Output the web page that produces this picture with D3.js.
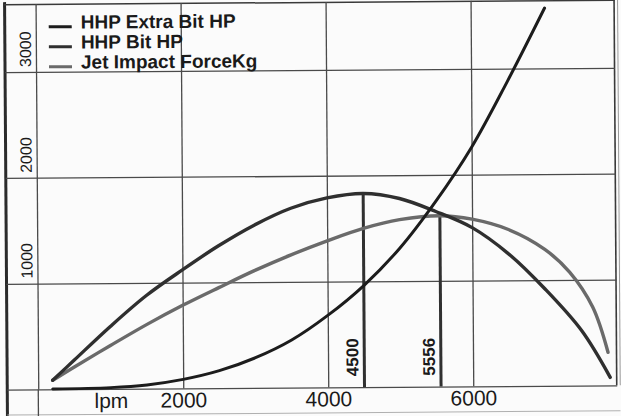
<!DOCTYPE html>
<html>
<head>
  <meta charset="utf-8">
  <script src="https://cdn.jsdelivr.net/npm/d3@7"></script>
  <style>
    body {
      margin: 0;
      padding: 0;
      background: #fbfbfb;
      font-family: "Liberation Sans", Arial, Helvetica, sans-serif;
    }
    .grid line { stroke: #4a4a4a; stroke-width: 1.3px; }
    .grid path { display: none; }
    .xlab text { font-size: 21px; fill: #1a1a1a; }
    .ylab text { font-size: 16px; fill: #1a1a1a; }
    .legend text { font-size: 19px; font-weight: bold; fill: #1a1a1a; }
    .mark text { font-size: 17px; font-weight: bold; fill: #1a1a1a; }
  </style>
</head>
<body>
<script>

  // HHP Extra Bit HP (steep rising curve)
  var extraLpm = [200, 1000, 1500, 2000, 2500, 3000, 3500, 4000, 4500, 5000, 5500, 6000, 6500, 7020];
  var extraHP  = [3, 12, 35, 85, 165, 285, 450, 680, 960, 1310, 1750, 2260, 2880, 3570];

  // HHP Bit HP
  var bitLpm = [200, 500, 1000, 1500, 2000, 2500, 3000, 3500, 4000, 4500, 5000, 5500, 6000, 6500, 7000, 7500, 7890];
  var bitHP  = [85, 275, 590, 880, 1120, 1345, 1540, 1695, 1790, 1830, 1780, 1655, 1500, 1250, 915, 520, 76];

  // Jet Impact ForceKg
  var jetLpm = [200, 500, 1000, 1500, 2000, 2500, 3000, 3500, 4000, 4500, 5000, 5556, 6000, 6500, 7000, 7340, 7655, 7862];
  var jetKg  = [85, 210, 410, 605, 785, 950, 1110, 1255, 1385, 1500, 1580, 1615, 1580, 1480, 1290, 1073, 741, 313];

  // vertical markers
  var markLpm = [4500, 5556];
  var markTop = [1830, 1615];
  var markLabels = ["4500", "5556"];

  var xGridTicks = [0, 2000, 4000, 6000];
  var xLabelTicks = [1000, 2000, 4000, 6000];
  var xLabels = ["lpm", "2000", "4000", "6000"];
  var yGridTicks = [0, 1000, 2000, 3000];
  var yLabelTicks = [1000, 2000, 3000];

  var seriesNames = ["HHP Extra Bit HP", "HHP Bit HP", "Jet Impact ForceKg"];
  var seriesColors = ["#1c1c1c", "#2f2f2f", "#6a6a6a"];

  var width = 621, height = 416;
  var pLeft = 37, pRight = 614, pTop = 2, pBottom = 387.5;

  var svg = d3.select("body").append("svg")
      .attr("width", width)
      .attr("height", height);

  // the scan is slightly tilted
  var g = svg.append("g")
      .attr("transform", "rotate(-0.4, 310, 208)");

  var x = d3.scaleLinear()
      .domain([0, (pRight - pLeft) / 0.0725])
      .range([pLeft, pRight]);

  var y = d3.scaleLinear()
      .domain([0, (pBottom - pTop) / 0.10583])
      .range([pBottom, pTop]);

  // frame
  g.append("line").attr("x1", 6).attr("x2", 6).attr("y1", 0).attr("y2", height)
      .attr("stroke", "#2a2a2a").attr("stroke-width", 3);
  g.append("line").attr("x1", 5).attr("x2", 616).attr("y1", pTop + 0.5).attr("y2", pTop + 0.5)
      .attr("stroke", "#3a3a3a").attr("stroke-width", 1.5);
  g.append("line").attr("x1", 615.5).attr("x2", 615.5).attr("y1", pTop).attr("y2", pBottom)
      .attr("stroke", "#3a3a3a").attr("stroke-width", 1.6);
  g.append("line").attr("x1", 619).attr("x2", 619).attr("y1", pTop).attr("y2", pBottom)
      .attr("stroke", "#9a9a9a").attr("stroke-width", 1);
  g.append("line").attr("x1", 6).attr("x2", 619).attr("y1", 413).attr("y2", 413)
      .attr("stroke", "#b0b0b0").attr("stroke-width", 1);

  // vertical grid
  g.append("g")
      .attr("class", "grid")
      .attr("transform", "translate(0," + pTop + ")")
      .call(d3.axisBottom(x).tickValues(xGridTicks).tickSize(pBottom - pTop).tickFormat(""));

  // x = 0 line runs down through the label strip
  g.append("line")
      .attr("x1", x(0)).attr("x2", x(0))
      .attr("y1", pBottom).attr("y2", height)
      .attr("stroke", "#4a4a4a").attr("stroke-width", 1.3);

  // horizontal grid
  g.append("g")
      .attr("class", "grid")
      .attr("transform", "translate(" + 616 + ",0)")
      .call(d3.axisLeft(y).tickValues(yGridTicks).tickSize(616 - 6).tickFormat(""));

  // x labels
  var xl = g.append("g")
      .attr("class", "xlab")
      .attr("transform", "translate(0," + pBottom + ")")
      .call(d3.axisBottom(x).tickValues(xLabelTicks).tickSize(0).tickPadding(0)
        .tickFormat(function(d, i) { return xLabels[i]; }));
  xl.select(".domain").remove();
  xl.selectAll("text").attr("dy", null).attr("y", 19);

  // y labels, rotated
  g.append("g")
      .attr("class", "ylab")
    .selectAll("text")
      .data(yLabelTicks)
    .enter().append("text")
      .attr("transform", function(d) { return "translate(32," + (y(d) - 5) + ") rotate(-90)"; })
      .attr("text-anchor", "start")
      .text(function(d) { return d; });

  // curves
  var line = d3.line()
      .x(function(d) { return x(d[0]); })
      .y(function(d) { return y(d[1]); })
      .curve(d3.curveCatmullRom.alpha(0.5));

  var series = [
    { pts: d3.zip(extraLpm, extraHP), w: 3 },
    { pts: d3.zip(bitLpm, bitHP), w: 3.4 },
    { pts: d3.zip(jetLpm, jetKg), w: 3.4 }
  ];

  // markers under the curves
  var mk = g.append("g").attr("class", "mark");
  markLpm.forEach(function(v, i) {
    mk.append("line")
        .attr("x1", x(v)).attr("x2", x(v))
        .attr("y1", y(0)).attr("y2", y(markTop[i]))
        .attr("stroke", "#303030").attr("stroke-width", 3);
    mk.append("text")
        .attr("transform", "translate(" + (x(v) - 6) + "," + (y(0) - 11) + ") rotate(-90)")
        .attr("text-anchor", "start")
        .text(markLabels[i]);
  });

  [2, 1, 0].forEach(function(i) {
    g.append("path")
        .datum(series[i].pts)
        .attr("fill", "none")
        .attr("stroke", seriesColors[i])
        .attr("stroke-width", series[i].w)
        .attr("stroke-linecap", "round")
        .attr("d", line);
  });

  // legend
  var lg = g.append("g").attr("class", "legend");
  seriesNames.forEach(function(name, i) {
    lg.append("line")
        .attr("x1", 50).attr("x2", 73)
        .attr("y1", 25 + i * 20).attr("y2", 25 + i * 20)
        .attr("stroke", seriesColors[i]).attr("stroke-width", 3);
    lg.append("text")
        .attr("x", 82).attr("y", 27 + i * 20)
        .text(name);
  });

</script>
</body>
</html>
